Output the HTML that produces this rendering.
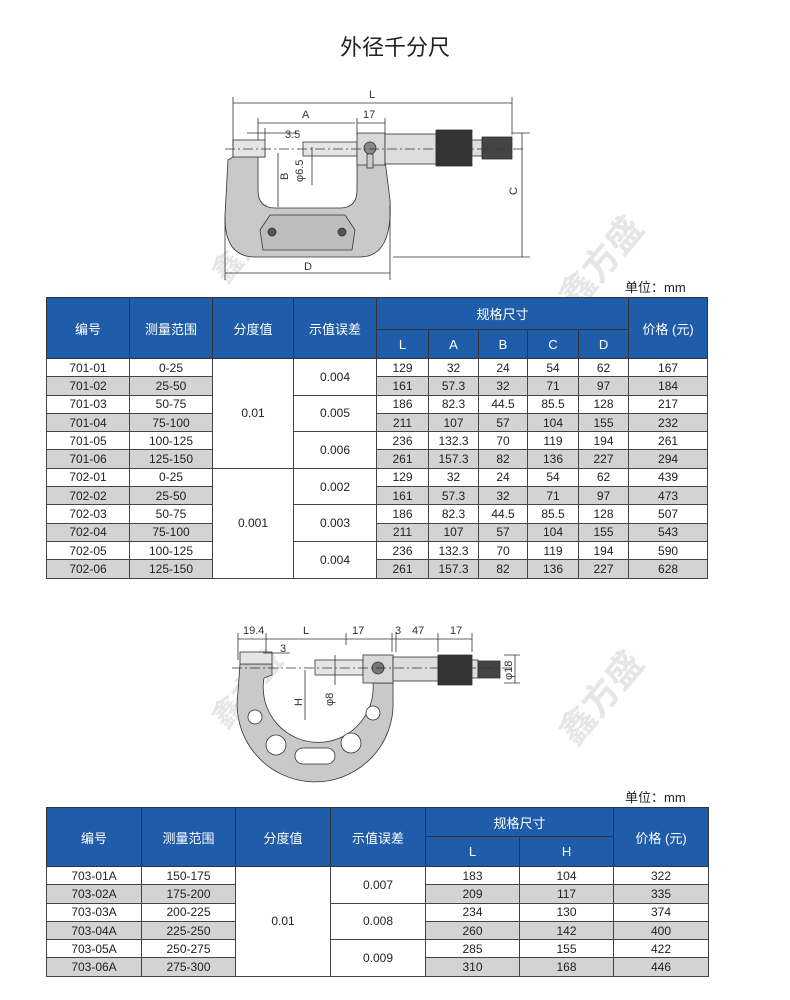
<!DOCTYPE html>
<html><head><meta charset="utf-8">
<style>
*{margin:0;padding:0;box-sizing:border-box}
body{width:790px;height:1000px;background:#fff;position:relative;overflow:hidden;font-family:"Liberation Sans","Noto Sans CJK SC",sans-serif;color:#222}
.abs{position:absolute}
table{border-collapse:collapse;table-layout:fixed;position:absolute;left:46px}
td{border:1px solid #444;text-align:center;font-size:12px;padding:0;line-height:1;overflow:hidden;white-space:nowrap}
th{background:#1f5ca9;color:#fff;font-weight:normal;font-size:13px;border:1px solid #333;text-align:center;padding:0}
tr.g td.s{background:#d3d3d3}
.wm{position:absolute;color:#e6e6e6;font-weight:bold;transform:rotate(-50deg);white-space:nowrap}
</style></head><body>
<div class="abs" style="left:0;width:790px;top:30px;text-align:center;font-size:22px;color:#222">外径千分尺</div>

<div class="wm" style="left:200px;top:220px;font-size:30px">鑫方盛</div>
<div class="wm" style="left:545px;top:235px;font-size:36px">鑫方盛</div>
<div class="wm" style="left:545px;top:670px;font-size:36px">鑫方盛</div>
<div class="wm" style="left:200px;top:665px;font-size:30px">鑫方盛</div>

<!-- Drawing 1 -->
<svg class="abs" style="left:0;top:0" width="790" height="290" viewBox="0 0 790 290">
<g stroke="#333" fill="none" stroke-width="0.8">
<!-- frame -->
<path d="M233 157 L233 150 L265 150 L265 157 L258 157 L258 190 Q258 208 275 208 L340 208 Q357 208 357 190 L357 157 L385 157 L385 160 L390 200 Q393 257 360 257 L255 257 Q224 257 225 215 L228 160 Z" fill="#c9c9c9"/>
<path d="M270 215 L345 215 L355 230 L352 250 L263 250 L260 230 Z" fill="#bdbdbd"/>
<circle cx="272" cy="232" r="4" fill="#555"/><circle cx="342" cy="232" r="4" fill="#555"/>
<rect x="233" y="140" width="32" height="17" fill="#e5e5e5"/>
<rect x="303" y="142" width="54" height="14" fill="#e5e5e5"/>
<rect x="357" y="133" width="28" height="32" fill="#d8d8d8"/>
<circle cx="370" cy="148" r="6" fill="#888"/>
<rect x="367" y="154" width="6" height="14" fill="#ccc"/>
<rect x="385" y="134" width="51" height="30" fill="#ddd"/>
<rect x="436" y="130" width="36" height="36" fill="#333"/>
<rect x="472" y="140" width="10" height="16" fill="#ddd"/>
<rect x="482" y="137" width="30" height="22" fill="#444"/>
<!-- axis -->
<path d="M225 149 H525" stroke-dasharray="10 3 2 3"/>
<!-- dims -->
<path d="M233 97 V147 M512 97 V135 M233 103 H512 M258 118 V140 M357 118 V135 M385 118 V133 M258 123 H355 M357 123 H385 M247 133 H297 M258 128 V140 M265 128 V140 M312 147 V185 M278 153 V207 M225 217 V280 M390 205 V280 M225 273 H390 M512 133 H530 M393 257 H530 M522 133 V257"/>
</g>
<g font-size="11" fill="#333" font-family="Liberation Sans,sans-serif">
<text x="369" y="98">L</text><text x="302" y="118">A</text><text x="363" y="118">17</text><text x="285" y="138">3.5</text>
<text x="303" y="182" transform="rotate(-90 303 182)">φ6.5</text>
<text x="288" y="180" transform="rotate(-90 288 180)">B</text>
<text x="304" y="270">D</text>
<text x="517" y="195" transform="rotate(-90 517 195)">C</text>
</g>
</svg>

<div class="abs" style="left:625px;top:277px;font-size:13px">单位：mm</div>

<table style="top:297px;width:661px">
<colgroup><col style="width:83px"><col style="width:83px"><col style="width:81px"><col style="width:83px"><col style="width:52px"><col style="width:50px"><col style="width:49px"><col style="width:51px"><col style="width:50px"><col style="width:79px"></colgroup>
<tr style="height:32px"><th rowspan="2">编号</th><th rowspan="2">测量范围</th><th rowspan="2">分度值</th><th rowspan="2">示值误差</th><th colspan="5">规格尺寸</th><th rowspan="2">价格 (元)</th></tr>
<tr style="height:29px"><th>L</th><th>A</th><th>B</th><th>C</th><th>D</th></tr>
<tr style="height:18.3px"><td class="s">701-01</td><td class="s">0-25</td><td rowspan="6">0.01</td><td rowspan="2">0.004</td><td class="s">129</td><td class="s">32</td><td class="s">24</td><td class="s">54</td><td class="s">62</td><td class="s">167</td></tr>
<tr class="g" style="height:18.3px"><td class="s">701-02</td><td class="s">25-50</td><td class="s">161</td><td class="s">57.3</td><td class="s">32</td><td class="s">71</td><td class="s">97</td><td class="s">184</td></tr>
<tr style="height:18.3px"><td class="s">701-03</td><td class="s">50-75</td><td rowspan="2">0.005</td><td class="s">186</td><td class="s">82.3</td><td class="s">44.5</td><td class="s">85.5</td><td class="s">128</td><td class="s">217</td></tr>
<tr class="g" style="height:18.3px"><td class="s">701-04</td><td class="s">75-100</td><td class="s">211</td><td class="s">107</td><td class="s">57</td><td class="s">104</td><td class="s">155</td><td class="s">232</td></tr>
<tr style="height:18.3px"><td class="s">701-05</td><td class="s">100-125</td><td rowspan="2">0.006</td><td class="s">236</td><td class="s">132.3</td><td class="s">70</td><td class="s">119</td><td class="s">194</td><td class="s">261</td></tr>
<tr class="g" style="height:18.3px"><td class="s">701-06</td><td class="s">125-150</td><td class="s">261</td><td class="s">157.3</td><td class="s">82</td><td class="s">136</td><td class="s">227</td><td class="s">294</td></tr>
<tr style="height:18.3px"><td class="s">702-01</td><td class="s">0-25</td><td rowspan="6">0.001</td><td rowspan="2">0.002</td><td class="s">129</td><td class="s">32</td><td class="s">24</td><td class="s">54</td><td class="s">62</td><td class="s">439</td></tr>
<tr class="g" style="height:18.3px"><td class="s">702-02</td><td class="s">25-50</td><td class="s">161</td><td class="s">57.3</td><td class="s">32</td><td class="s">71</td><td class="s">97</td><td class="s">473</td></tr>
<tr style="height:18.3px"><td class="s">702-03</td><td class="s">50-75</td><td rowspan="2">0.003</td><td class="s">186</td><td class="s">82.3</td><td class="s">44.5</td><td class="s">85.5</td><td class="s">128</td><td class="s">507</td></tr>
<tr class="g" style="height:18.3px"><td class="s">702-04</td><td class="s">75-100</td><td class="s">211</td><td class="s">107</td><td class="s">57</td><td class="s">104</td><td class="s">155</td><td class="s">543</td></tr>
<tr style="height:18.3px"><td class="s">702-05</td><td class="s">100-125</td><td rowspan="2">0.004</td><td class="s">236</td><td class="s">132.3</td><td class="s">70</td><td class="s">119</td><td class="s">194</td><td class="s">590</td></tr>
<tr class="g" style="height:18.3px"><td class="s">702-06</td><td class="s">125-150</td><td class="s">261</td><td class="s">157.3</td><td class="s">82</td><td class="s">136</td><td class="s">227</td><td class="s">628</td></tr>
</table>

<!-- Drawing 2 -->
<svg class="abs" style="left:0;top:600px" width="790" height="200" viewBox="0 600 790 200">
<g stroke="#333" fill="none" stroke-width="0.8">
<path d="M240 664 L272 664 L272 675 L264 678 A55 55 0 1 0 372 676 L372 683 L393 683 L393 700 A78 78 0 1 1 238 692 Z" fill="#c9c9c9"/>
<circle cx="255" cy="717" r="7" fill="#fff"/><circle cx="276" cy="745" r="10" fill="#fff"/>
<rect x="295" y="748" width="40" height="16" rx="8" fill="#fff"/>
<circle cx="351" cy="743" r="10" fill="#fff"/><circle cx="373" cy="713" r="7" fill="#fff"/>
<rect x="240" y="652" width="32" height="12" fill="#e5e5e5"/>
<rect x="315" y="660" width="48" height="15" fill="#e5e5e5"/>
<rect x="363" y="655" width="30" height="28" fill="#d8d8d8"/>
<circle cx="378" cy="668" r="6" fill="#777"/>
<rect x="393" y="657" width="45" height="24" fill="#ddd"/>
<rect x="438" y="655" width="34" height="30" fill="#333"/>
<rect x="472" y="660" width="6" height="18" fill="#ddd"/>
<rect x="478" y="661" width="22" height="17" fill="#444"/>
<path d="M232 668 H515" stroke-dasharray="10 3 2 3"/>
<path d="M238 633 V660 M266 633 V652 M346 633 V645 M392 633 V652 M396 633 V652 M438 633 V652 M472 633 V652 M238 639 H472 M263 653 H290 M335 655 V685 M305 670 V720 M504 655 H520 M504 683 H520 M515 655 V683"/>
</g>
<g font-size="11" fill="#333" font-family="Liberation Sans,sans-serif">
<text x="243" y="634">19.4</text><text x="303" y="634">L</text><text x="352" y="634">17</text><text x="395" y="634">3</text><text x="412" y="634">47</text><text x="450" y="634">17</text><text x="280" y="652">3</text>
<text x="333" y="706" transform="rotate(-90 333 706)">φ8</text>
<text x="302" y="706" transform="rotate(-90 302 706)">H</text>
<text x="512" y="680" transform="rotate(-90 512 680)">φ18</text>
</g>
</svg>

<div class="abs" style="left:625px;top:787px;font-size:13px">单位：mm</div>

<table style="top:807px;width:662px">
<colgroup><col style="width:95px"><col style="width:94px"><col style="width:95px"><col style="width:95px"><col style="width:94px"><col style="width:94px"><col style="width:95px"></colgroup>
<tr style="height:29px"><th rowspan="2">编号</th><th rowspan="2">测量范围</th><th rowspan="2">分度值</th><th rowspan="2">示值误差</th><th colspan="2">规格尺寸</th><th rowspan="2">价格 (元)</th></tr>
<tr style="height:30px"><th>L</th><th>H</th></tr>
<tr style="height:18.3px"><td class="s">703-01A</td><td class="s">150-175</td><td rowspan="6">0.01</td><td rowspan="2">0.007</td><td class="s">183</td><td class="s">104</td><td class="s">322</td></tr>
<tr class="g" style="height:18.3px"><td class="s">703-02A</td><td class="s">175-200</td><td class="s">209</td><td class="s">117</td><td class="s">335</td></tr>
<tr style="height:18.3px"><td class="s">703-03A</td><td class="s">200-225</td><td rowspan="2">0.008</td><td class="s">234</td><td class="s">130</td><td class="s">374</td></tr>
<tr class="g" style="height:18.3px"><td class="s">703-04A</td><td class="s">225-250</td><td class="s">260</td><td class="s">142</td><td class="s">400</td></tr>
<tr style="height:18.3px"><td class="s">703-05A</td><td class="s">250-275</td><td rowspan="2">0.009</td><td class="s">285</td><td class="s">155</td><td class="s">422</td></tr>
<tr class="g" style="height:18.3px"><td class="s">703-06A</td><td class="s">275-300</td><td class="s">310</td><td class="s">168</td><td class="s">446</td></tr>
</table>
</body></html>
